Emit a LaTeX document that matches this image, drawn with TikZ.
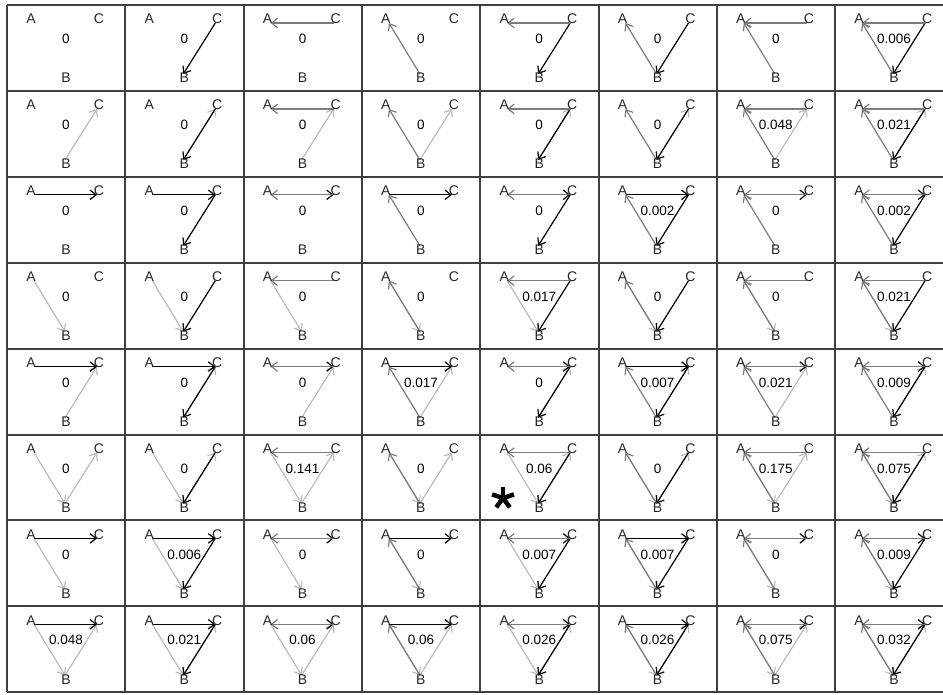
\documentclass[tikz,border=0pt]{standalone}
\usepackage{fontspec}
\setmainfont{Liberation Sans}
\usetikzlibrary{arrows.meta}
\definecolor{gridgray}{HTML}{404040}
\definecolor{cmid}{HTML}{7C7C7C}
\definecolor{clight}{HTML}{BBBBBB}

\begin{document}
\begin{tikzpicture}[x=1pt,y=-1pt,
  vlbl/.style={font=\fontsize{14}{14}\selectfont,inner sep=0pt,text=black!85},
  pval/.style={font=\fontsize{13.5}{14}\selectfont,inner sep=0pt},
  arc/.style={-{Straight Barb[length=6pt,width=9.5pt]},line width=1.2pt},
  darkarc/.style={arc,draw=black},
  grayarc/.style={arc,draw=cmid},
  palearc/.style={arc,draw=clight},
  gridline/.style={draw=gridgray,line width=2pt}]
  \useasboundingbox (0,0) rectangle (943,694);
  \fill[white] (0,0) rectangle (943,694);
  % cell (c,r): 118.3 wide, 85.9 high, first one at (7,5)
  % columns switch C->B, C->A, B->A ; rows switch B->C, A->C, A->B
  \foreach \c/\cb/\ca/\ba in {1/0/0/0,2/1/0/0,3/0/1/0,4/0/0/1,5/1/1/0,6/1/0/1,7/0/1/1,8/1/1/1}{
    \foreach \r/\bc/\ac/\ab in {1/0/0/0,2/1/0/0,3/0/1/0,4/0/0/1,5/1/1/0,6/1/0/1,7/0/1/1,8/1/1/1}{
      \begin{scope}[shift={({7+(\c-1)*118.3},{5+(\r-1)*85.9})}]
        \coordinate (A-\c-\r) at (27,18);
        \coordinate (C-\c-\r) at (90,18);
        \coordinate (B-\c-\r) at (58,69);
        \ifnum\bc=1 \draw[palearc] (B-\c-\r) -- (C-\c-\r); \fi
        \ifnum\ac=1 \draw[darkarc] (A-\c-\r) -- (C-\c-\r); \fi
        \ifnum\ab=1 \draw[palearc] (A-\c-\r) -- (B-\c-\r); \fi
        \ifnum\cb=1 \draw[darkarc] (C-\c-\r) -- (B-\c-\r); \fi
        \ifnum\ca=1 \draw[grayarc] (C-\c-\r) -- (A-\c-\r); \fi
        \ifnum\ba=1 \draw[grayarc] (B-\c-\r) -- (A-\c-\r); \fi
        \node[vlbl] (a-\c-\r) at (24,14) {A};
        \node[vlbl] (cc-\c-\r) at (92,14) {C};
        \node[vlbl] (b-\c-\r) at (59,73) {B};
      \end{scope}
    }
  }
  % values in the middle of each triangle
  \foreach \r/\vals in {1/{0,0,0,0,0,0,0,0.006},
                        2/{0,0,0,0,0,0,0.048,0.021},
                        3/{0,0,0,0,0,0.002,0,0.002},
                        4/{0,0,0,0,0.017,0,0,0.021},
                        5/{0,0,0,0.017,0,0.007,0.021,0.009},
                        6/{0,0,0.141,0,0.06,0,0.175,0.075},
                        7/{0,0.006,0,0,0.007,0.007,0,0.009},
                        8/{0.048,0.021,0.06,0.06,0.026,0.026,0.075,0.032}}{
    \foreach \v [count=\c] in \vals {
      \node[pval] (v-\c-\r) at ({7+(\c-1)*118.3+59},{5+(\r-1)*85.9+34}) {\v};
    }
  }
  % grid
  \foreach \k in {0,...,8}
    \draw[gridline] (7,{5+\k*85.9}) -- (943,{5+\k*85.9});
  \foreach \k in {0,...,7}
    \draw[gridline] ({7+\k*118.3},5) -- ({7+\k*118.3},{5+8*85.9});
  % marked cell
  \foreach \t in {-90,-18,54,126,198}
    \draw[line width=4.5pt] (503,498) -- ++(\t:11.5);
\end{tikzpicture}
\end{document}
